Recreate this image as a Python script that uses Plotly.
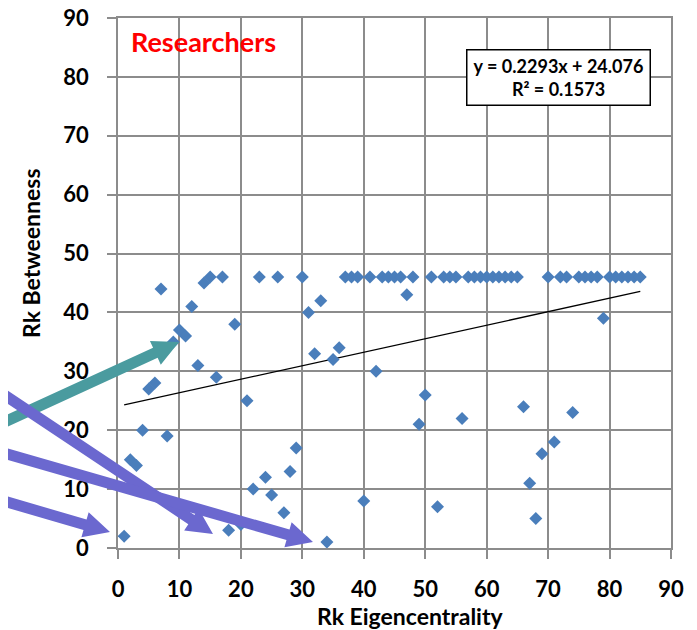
import plotly.graph_objects as go

# ---- data ----
rk_eigen = list(range(1, 86))
rk_betw = [
    2, 15, 14, 20, 27, 28, 44, 19, 35, 37,
    36, 41, 31, 45, 46, 29, 46, 3, 38, 4,
    25, 10, 46, 12, 9, 46, 6, 13, 17, 46,
    40, 33, 42, 1, 32, 34, 46, 46, 46, 8,
    46, 30, 46, 46, 46, 46, 43, 46, 21, 26,
    46, 7, 46, 46, 46, 22, 46, 46, 46, 46,
    46, 46, 46, 46, 46, 24, 11, 5, 16, 46,
    18, 46, 46, 23, 46, 46, 46, 46, 39, 46,
    46, 46, 46, 46, 46,
]
slope = 0.2293
intercept = 24.076
eq_text = "y = 0.2293x + 24.076<br>R² = 0.1573"
title_text = "Researchers"
x_title = "Rk Eigencentrality"
y_title = "Rk Betweenness"
tick_vals = [0, 10, 20, 30, 40, 50, 60, 70, 80, 90]

# ---- layout geometry (page has an 8px body margin) ----
OFF = 8
W, H = 697 - OFF, 630 - OFF
PLOT_L, PLOT_R, PLOT_T, PLOT_B = 118, 671, 18, 548   # page pixels
ML = PLOT_L - OFF
MT = PLOT_T - OFF
MR = W - (PLOT_R - OFF)
MB = H - (PLOT_B - OFF)
PW, PH = PLOT_R - PLOT_L, PLOT_B - PLOT_T
FONT = "Lato"
GRID = "#8c8c8c"


def px_to_paper(px, py):
    return (px - PLOT_L) / PW, (PLOT_B - py) / PH


def arrow_path(sx, sy, tx, ty, w=11, L=26, Wh=26):
    dx, dy = tx - sx, ty - sy
    d = (dx * dx + dy * dy) ** 0.5
    ux, uy = dx / d, dy / d
    nx, ny = -uy, ux
    bx, by = tx - L * ux, ty - L * uy
    pts = [
        (sx + nx * w / 2, sy + ny * w / 2),
        (bx + nx * w / 2, by + ny * w / 2),
        (bx + nx * Wh / 2, by + ny * Wh / 2),
        (tx, ty),
        (bx - nx * Wh / 2, by - ny * Wh / 2),
        (bx - nx * w / 2, by - ny * w / 2),
        (sx - nx * w / 2, sy - ny * w / 2),
    ]
    pp = [px_to_paper(x, y) for x, y in pts]
    return "M " + " L ".join(f"{x:.5f},{y:.5f}" for x, y in pp) + " Z"


fig = go.Figure()

xmin, xmax = min(rk_eigen), max(rk_eigen)
fig.add_trace(go.Scatter(
    x=[xmin, xmax], y=[slope * xmin + intercept, slope * xmax + intercept],
    mode="lines", line=dict(color="black", width=1.3), hoverinfo="skip",
))
fig.add_trace(go.Scatter(
    x=rk_eigen, y=rk_betw, mode="markers",
    marker=dict(symbol="diamond", size=10, color="#4a7ebb", line=dict(width=0)),
))

axis_common = dict(
    range=[0, 90], tickvals=tick_vals, showgrid=True, gridcolor=GRID, gridwidth=1.7,
    zeroline=False, showline=True, linecolor=GRID, linewidth=1.7, mirror=True,
    ticks="outside", ticklen=9, tickcolor=GRID, tickwidth=1.7,
    tickfont=dict(family=FONT, size=22, color="black", weight="bold"),
    fixedrange=True, automargin=False, ticklabeloverflow="allow",
)
fig.update_xaxes(**axis_common, ticklabelstandoff=12)
fig.update_yaxes(**axis_common, ticklabelstandoff=14)

shapes = []
arrows = [
    ((-20, 433.2), (179, 342), "#4a9b9f"),
    ((-10, 385.3), (213, 534), "#6b68cf"),
    ((-10, 449.1), (313, 542), "#6b68cf"),
    ((-10, 497.1), (110, 532), "#6b68cf"),
]
for (sx, sy), (tx, ty), col in arrows:
    shapes.append(dict(type="path", xref="paper", yref="paper",
                       path=arrow_path(sx, sy, tx, ty), fillcolor=col,
                       line=dict(width=0), layer="above"))

ex, ey = px_to_paper(558, 78)
rx, ry = px_to_paper(129, 41)
tx_, ty_ = px_to_paper(410, 616)
yx, yy = px_to_paper(31, 253)

annotations = [
    dict(text=eq_text, xref="paper", yref="paper", x=ex, y=ey,
         xanchor="center", yanchor="middle", showarrow=False,
         font=dict(family=FONT, size=18, color="black", weight="bold"),
         bgcolor="white", bordercolor="black", borderwidth=1.5,
         borderpad=3, width=176, height=48, align="center"),
    dict(text=title_text, xref="paper", yref="paper", x=rx, y=ry,
         xanchor="left", yanchor="middle", showarrow=False,
         font=dict(family=FONT, size=27, color="#ff0000", weight="bold")),
    dict(text=x_title, xref="paper", yref="paper", x=tx_, y=ty_,
         xanchor="center", yanchor="middle", showarrow=False,
         font=dict(family=FONT, size=23, color="black", weight="bold")),
    dict(text=y_title, xref="paper", yref="paper", x=yx, y=yy,
         xanchor="center", yanchor="middle", showarrow=False, textangle=-90,
         font=dict(family=FONT, size=23, color="black", weight="bold")),
]

fig.update_layout(
    width=W, height=H, margin=dict(l=ML, r=MR, t=MT, b=MB, autoexpand=False),
    plot_bgcolor="white", paper_bgcolor="white", showlegend=False,
    shapes=shapes, annotations=annotations,
)

fig.write_html("out.html")
